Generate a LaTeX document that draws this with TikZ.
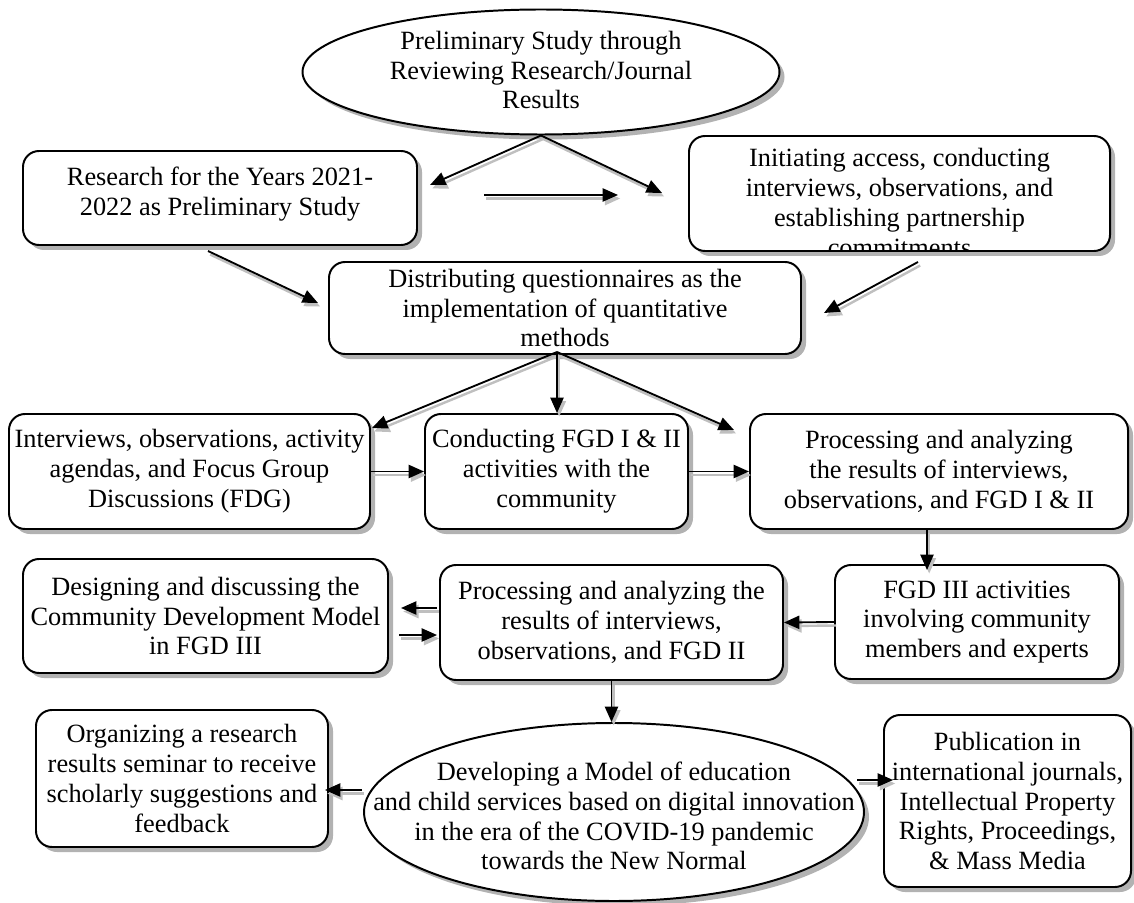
\documentclass[tikz,border=0pt]{standalone}
\usepackage{fontspec}
\setmainfont{Liberation Serif}
\usetikzlibrary{shapes.geometric,shadows,arrows.meta}
\newlength{\px}
\setlength{\px}{0.016cm}

\begin{document}
\begin{tikzpicture}[x=0.016cm,y=-0.016cm,
  font=\fontsize{12}{13.6}\selectfont,
  every node/.style={align=center,inner sep=0pt},
  roundbox/.style={draw,line width=0.9pt,rounded corners=16\px,fill=white,
    drop shadow={shadow xshift=5\px,shadow yshift=-5\px,fill=black!30,opacity=1}},
  oval/.style={ellipse,draw,line width=0.9pt,fill=white,
    drop shadow={shadow xshift=5\px,shadow yshift=-5\px,fill=black!30,opacity=1}},
  link/.style={-{Triangle[length=7pt,width=6pt]},line width=0.85pt,
    preaction={draw=black!25,line width=1.1pt,transform canvas={shift={(1pt,-1.6pt)}}}}
  ]
    \useasboundingbox (0,0) rectangle (1134,903);

    % boxes and ovals
    \node[oval,minimum width=477\px,minimum height=125\px,
      label={[yshift=2\px]center:{Preliminary Study through\\Reviewing Research/Journal\\Results}}] (prelim) at (541,72) {};
    \node[roundbox,minimum width=394\px,minimum height=94\px,
      path picture={\node (yearstext) at ([yshift=4\px]path picture bounding box.center)
        {Research for the Years 2021-\\2022 as Preliminary Study};}] (years) at (220,198) {};
    \node[roundbox,minimum width=421\px,minimum height=115\px,
      path picture={\node (accesstext) at ([yshift=-9\px]path picture bounding box.center)
        {Initiating access, conducting\\interviews, observations, and\\establishing partnership\\commitments};}] (access) at (899.5,193.5) {};
    \node[roundbox,minimum width=472\px,minimum height=92\px] (quest) at (565,308)
      {Distributing questionnaires as the\\implementation of quantitative\\methods};
    \node[roundbox,minimum width=361\px,minimum height=115\px] (fgdinter) at (189.5,471.5)
      {Interviews, observations, activity\\agendas, and Focus Group\\Discussions (FDG)};
    \node[roundbox,minimum width=263\px,minimum height=115\px] (conduct) at (556.5,471.5)
      {Conducting FGD I \& II\\activities with the\\community};
    \node[roundbox,minimum width=378\px,minimum height=115\px] (process1) at (939,471.5)
      {Processing and analyzing\\the results of interviews,\\observations, and FGD I \& II};
    \node[roundbox,minimum width=365\px,minimum height=114\px] (design) at (205.5,616)
      {Designing and discussing the\\Community Development Model\\in FGD III};
    \node[roundbox,minimum width=343\px,minimum height=115\px] (process2) at (611.5,622.5)
      {Processing and analyzing the\\results of interviews,\\observations, and FGD II};
    \node[roundbox,minimum width=284\px,minimum height=114\px] (fgd3) at (977,622)
      {FGD III activities\\involving community\\members and experts};
    \node[oval,minimum width=500\px,minimum height=178\px,
      label={[yshift=-4\px]center:{Developing a Model of education\\and child services based on digital innovation\\in the era of the COVID-19 pandemic\\towards the New Normal}}] (model) at (614,812) {};
    \node[roundbox,minimum width=292\px,minimum height=137\px] (seminar) at (182,778.5)
      {Organizing a research\\results seminar to receive\\scholarly suggestions and\\feedback};
    \node[roundbox,minimum width=247\px,minimum height=172\px] (publish) at (1007.5,801)
      {Publication in\\international journals,\\Intellectual Property\\Rights, Proceedings,\\\& Mass Media};

    % free arrow ends
    \coordinate (yearsend) at (430,185);
    \coordinate (accessend) at (662,193);
    \coordinate (midleft) at (484,195);
    \coordinate (midright) at (618,195);
    \coordinate (yearsout) at (208,251);
    \coordinate (questinleft) at (318,303);
    \coordinate (accessout) at (918,262);
    \coordinate (questinright) at (824,313);
    \coordinate (questout) at (557,352);
    \coordinate (fgdinterend) at (372,428);
    \coordinate (process1end) at (734,430);
    \coordinate (process1out) at (927,529);
    \coordinate (fgd3end) at (927,570);
    \coordinate (backstart) at (437,608);
    \coordinate (backend) at (401,608);
    \coordinate (forthstart) at (399,635);
    \coordinate (forthend) at (437,635);
    \coordinate (seminarstart) at (362,790);
    \coordinate (seminarend) at (325,790);
    \coordinate (publishstart) at (857,780);
    \coordinate (publishend) at (893,780);

    % connectors
    \draw[link] (prelim.south) -- (yearsend);
    \draw[link] (prelim.south) -- (accessend);
    \draw[link] (midleft) -- (midright);
    \draw[link] (yearsout) -- (questinleft);
    \draw[link] (accessout) -- (questinright);
    \draw[link] (questout) -- (fgdinterend);
    \draw[link] (questout) -- (questout |- conduct.north);
    \draw[link] (questout) -- (process1end);
    \draw[link] (fgdinter.east) -- (conduct.west);
    \draw[link] (conduct.east) -- (process1.west);
    \draw[link] (process1out) -- (fgd3end);
    \draw[link] (fgd3.west) -- (process2.east);
    \draw[link] (backstart) -- (backend);
    \draw[link] (forthstart) -- (forthend);
    \draw[link] (process2.south) -- (process2.south |- model.north);
    \draw[link] (seminarstart) -- (seminarend);
    \draw[link] (publishstart) -- (publishend);
\end{tikzpicture}
\end{document}
